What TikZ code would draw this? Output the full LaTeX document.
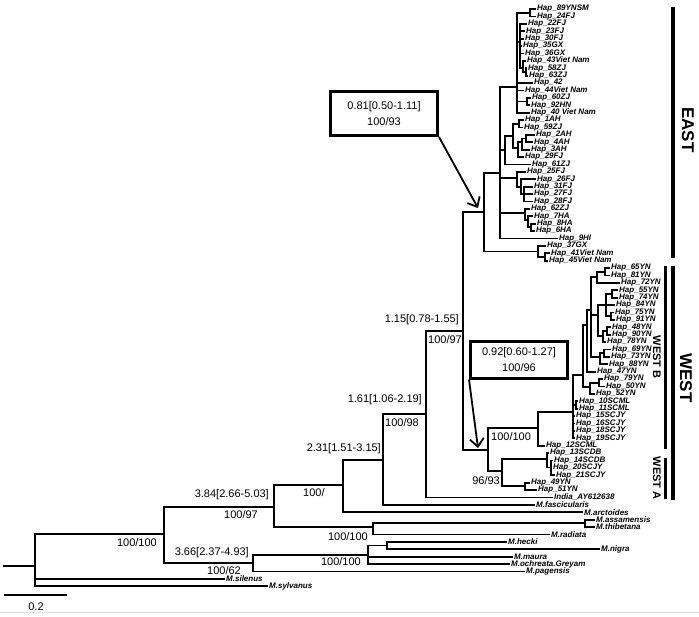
\documentclass[tikz,border=0pt]{standalone}
\usepackage{fontspec}
\setmainfont{Liberation Sans}
\usetikzlibrary{arrows.meta}

\begin{document}
\begin{tikzpicture}[x=1pt,y=-1pt,
  br/.style={line width=1.8pt},
  tip/.style={anchor=west,inner sep=1pt,font=\fontsize{8}{8}\selectfont\bfseries\itshape},
  supp/.style={inner sep=0pt,font=\fontsize{11}{12}\selectfont},
  bbox/.style={draw,line width=3pt,align=center,inner sep=0pt,font=\fontsize{11}{16}\selectfont},
  arr/.style={line width=1.8pt,-{Straight Barb[length=8pt,width=14pt]}},
  bar/.style={line width=4pt},
  clade/.style={rotate=-90,inner sep=0pt,font=\fontsize{17}{17}\selectfont\bfseries},
  subclade/.style={rotate=-90,inner sep=0pt,font=\fontsize{11}{11}\selectfont\bfseries}]
\useasboundingbox (0,0) rectangle (699,616);

% tips, one row every 7.4
\foreach \nm/\xe/\lab [count=\i from 0] in {
  h89/536/Hap\_89YNSM, h24/536/Hap\_24FJ, h22/527/Hap\_22FJ, h23/525/Hap\_23FJ,
  h30/524/Hap\_30FJ, h35/522/Hap\_35GX, h36/524/Hap\_36GX, h43/526/Hap\_43Viet Nam,
  h58/527/Hap\_58ZJ, h63/528/Hap\_63ZJ, h42/533/Hap\_42, h44/524/Hap\_44Viet Nam,
  h60/531/Hap\_60ZJ, h92/530/Hap\_92HN, h40/530/Hap\_40 Viet Nam, h1/524/Hap\_1AH,
  h59/523/Hap\_59ZJ, h2/535/Hap\_2AH, h4/533/Hap\_4AH, h3/530/Hap\_3AH,
  h29/524/Hap\_29FJ, h61/531/Hap\_61ZJ, h25/526/Hap\_25FJ, h26/536/Hap\_26FJ,
  h31/533/Hap\_31FJ, h27/533/Hap\_27FJ, h28/533/Hap\_28FJ, h62/530/Hap\_62ZJ,
  h7/533/Hap\_7HA, h8/536/Hap\_8HA, h6/535/Hap\_6HA, h9/558/Hap\_9HI,
  h37/546/Hap\_37GX, h41/550/Hap\_41Viet Nam, h45/548/Hap\_45Viet Nam}
  \node[tip] (\nm) at (\xe,{9+7.4*\i}) {\lab};

\foreach \nm/\xe/\lab [count=\i from 35] in {
  h65/610/Hap\_65YN, h81/610/Hap\_81YN, h72/620/Hap\_72YN, h55/618/Hap\_55YN,
  h74/618/Hap\_74YN, h84/615/Hap\_84YN, h75/614/Hap\_75YN, h91/615/Hap\_91YN,
  h48/611/Hap\_48YN, h90/611/Hap\_90YN, h78/606/Hap\_78YN, h69/611/Hap\_69YN,
  h73/610/Hap\_73YN, h88/608/Hap\_88YN, h47/596/Hap\_47YN, h79/603/Hap\_79YN,
  h50/605/Hap\_50YN, h52/595/Hap\_52YN, h10/578/Hap\_10SCML, h11/578/Hap\_11SCML,
  h15/575/Hap\_15SCJY, h16/575/Hap\_16SCJY, h18/575/Hap\_18SCJY, h19/575/Hap\_19SCJY,
  h12/545/Hap\_12SCML, h13/549/Hap\_13SCDB, h14/553/Hap\_14SCDB, h20/552/Hap\_20SCJY,
  h21/555/Hap\_21SCJY, h49/530/Hap\_49YN, h51/537/Hap\_51YN}
  \node[tip] (\nm) at (\xe,{9+7.4*\i}) {\lab};

\foreach \nm/\xe/\lab [count=\i from 66] in {
  india/553/India\_AY612638, fasc/535/M.fascicularis, arct/583/M.arctoides,
  assam/595/M.assamensis, thib/595/M.thibetana, radi/550/M.radiata,
  hecki/507/M.hecki, nigra/600/M.nigra, maura/513/M.maura,
  ochr/510/M.ochreata.Greyam, pag/525/M.pagensis, silen/225/M.silenus,
  sylv/268/M.sylvanus}
  \node[tip] (\nm) at (\xe,{9+7.4*\i}) {\lab};

% backbone
\coordinate (stem) at (3,566);
\coordinate (root) at (35,566);
\coordinate (A) at (164,534);
\coordinate (B) at (274,507);
\coordinate (C) at (253,563);
\coordinate (Cb) at (368,555);
\coordinate (Cc) at (387,545.5);
\coordinate (E) at (373,527);
\coordinate (Ea) at (585,523.3);
\coordinate (F) at (343,485);
\coordinate (G) at (383,460);
\coordinate (H) at (426,414);
\coordinate (I) at (463,331);
\draw[br] (stem) -- (root);
\draw[br] (root) |- (A) (root) |- (silen.west) (root) |- (sylv.west);
\draw[br] (A) |- (B) (A) |- (C);
\draw[br] (C) |- (Cb) (C) |- (pag.west);
\draw[br] (Cb) |- (Cc) (Cb) |- (maura.west) (Cb) |- (ochr.west);
\draw[br] (Cc) |- (hecki.west) (Cc) |- (nigra.west);
\draw[br] (B) |- (F) (B) |- (E);
\draw[br] (E) |- (Ea) (E) |- (radi.west);
\draw[br] (Ea) |- (assam.west) (Ea) |- (thib.west);
\draw[br] (F) |- (G) (F) |- (arct.west);
\draw[br] (G) |- (H) (G) |- (fasc.west);
\draw[br] (H) |- (I) (H) |- (india.west);

% EAST
\coordinate (J) at (484,212);
\coordinate (U) at (500,173);
\coordinate (U1) at (517,87);
\coordinate (U1a) at (530,12.7);
\coordinate (U1b) at (520,42);
\coordinate (U1d) at (523,68);
\coordinate (U1e) at (526,71.9);
\coordinate (U1c) at (527,101.5);
\coordinate (U2) at (505,150);
\coordinate (U2a) at (513,136);
\coordinate (U2b) at (519,123.7);
\coordinate (U2c) at (518,148);
\coordinate (U2d) at (522,142);
\coordinate (U2e) at (526,138.5);
\coordinate (U3) at (517,178);
\coordinate (U3a) at (521,186.6);
\coordinate (U3b) at (524,194);
\coordinate (U4) at (525,213);
\coordinate (U4a) at (528,220);
\coordinate (U4b) at (531,227.3);
\coordinate (V) at (538,251.4);
\coordinate (V2) at (545,256.9);
\draw[br] (I) |- (J) (J) |- (U) (J) |- (V);
\draw[br] (V) |- (h37.west) (V) |- (V2);
\draw[br] (V2) |- (h41.west) (V2) |- (h45.west);
\draw[br] (U) |- (U1) (U) |- (U2) (U) |- (U3) (U) |- (U4) (U) |- (h9.west);
\draw[br] (U1) |- (U1a) (U1) |- (U1b) (U1) |- (h42.west) (U1) |- (h44.west) (U1) |- (U1c) (U1) |- (h40.west);
\draw[br] (U1a) |- (h89.west) (U1a) |- (h24.west);
\draw[br] (U1b) |- (h22.west) (U1b) |- (h23.west) (U1b) |- (h30.west) (U1b) |- (h35.west) (U1b) |- (h36.west) (U1b) |- (U1d);
\draw[br] (U1d) |- (h43.west) (U1d) |- (U1e);
\draw[br] (U1e) |- (h58.west) (U1e) |- (h63.west);
\draw[br] (U1c) |- (h60.west) (U1c) |- (h92.west);
\draw[br] (U2) |- (U2a) (U2) |- (h61.west);
\draw[br] (U2a) |- (U2b) (U2a) |- (U2c);
\draw[br] (U2b) |- (h1.west) (U2b) |- (h59.west);
\draw[br] (U2c) |- (U2d) (U2c) |- (h29.west);
\draw[br] (U2d) |- (U2e) (U2d) |- (h3.west);
\draw[br] (U2e) |- (h2.west) (U2e) |- (h4.west);
\draw[br] (U3) |- (h25.west) (U3) |- (U3a);
\draw[br] (U3a) |- (h26.west) (U3a) |- (U3b);
\draw[br] (U3b) |- (h31.west) (U3b) |- (h27.west) (U3b) |- (h28.west);
\draw[br] (U4) |- (h62.west) (U4) |- (U4a);
\draw[br] (U4a) |- (h7.west) (U4a) |- (U4b);
\draw[br] (U4b) |- (h8.west) (U4b) |- (h6.west);

% WEST
\coordinate (K) at (488,450);
\coordinate (L) at (538,428);
\coordinate (Q) at (573,412);
\coordinate (Qa) at (576,404.9);
\coordinate (M) at (502,471);
\coordinate (N) at (547,459);
\coordinate (Na) at (551,467.4);
\coordinate (O) at (525,486);
\coordinate (R) at (583,375);
\coordinate (R1) at (587,325);
\coordinate (R3) at (591,310);
\coordinate (R4) at (597,277);
\coordinate (R4a) at (605,271.7);
\coordinate (R5) at (598,315);
\coordinate (R5a) at (606,305);
\coordinate (R5c) at (612,293.9);
\coordinate (R5d) at (611,316.1);
\coordinate (R5b) at (603,336);
\coordinate (R5e) at (607,330.9);
\coordinate (R6) at (600,357);
\coordinate (R6a) at (604,353.1);
\coordinate (R2) at (590,387);
\coordinate (R2a) at (599,382.7);
\draw[br] (I) |- (K) (K) |- (L) (K) |- (M);
\draw[br] (L) |- (Q) (L) |- (h12.west);
\draw[br] (Q) |- (R) (Q) |- (Qa) (Q) |- (h15.west) (Q) |- (h16.west) (Q) |- (h18.west) (Q) |- (h19.west);
\draw[br] (Qa) |- (h10.west) (Qa) |- (h11.west);
\draw[br] (M) |- (N) (M) |- (O);
\draw[br] (N) |- (h13.west) (N) |- (Na);
\draw[br] (Na) |- (h14.west) (Na) |- (h20.west) (Na) |- (h21.west);
\draw[br] (O) |- (h49.west) (O) |- (h51.west);
\draw[br] (R) |- (R1) (R) |- (R2);
\draw[br] (R1) |- (R3) (R1) |- (h47.west);
\draw[br] (R3) |- (R4) (R3) |- (R5) (R3) |- (R6);
\draw[br] (R4) |- (R4a) (R4) |- (h72.west);
\draw[br] (R4a) |- (h65.west) (R4a) |- (h81.west);
\draw[br] (R5) |- (R5a) (R5) |- (R5b);
\draw[br] (R5a) |- (R5c) (R5a) |- (h84.west) (R5a) |- (R5d);
\draw[br] (R5c) |- (h55.west) (R5c) |- (h74.west);
\draw[br] (R5d) |- (h75.west) (R5d) |- (h91.west);
\draw[br] (R5b) |- (R5e) (R5b) |- (h78.west);
\draw[br] (R5e) |- (h48.west) (R5e) |- (h90.west);
\draw[br] (R6) |- (R6a) (R6) |- (h88.west);
\draw[br] (R6a) |- (h69.west) (R6a) |- (h73.west);
\draw[br] (R2) |- (R2a) (R2) |- (h52.west);
\draw[br] (R2a) |- (h79.west) (R2a) |- (h50.west);

% support and dates
\node[supp,anchor=east] (sA) at (157,543) {100/100};
\node[supp,anchor=east] (sB1) at (269,495) {3.84[2.66-5.03]};
\node[supp,anchor=east] (sB2) at (258,515) {100/97};
\node[supp,anchor=east] (sC1) at (249,553) {3.66[2.37-4.93]};
\node[supp,anchor=east] (sC2) at (241,571) {100/62};
\node[supp,anchor=east] (sCb) at (361,562) {100/100};
\node[supp,anchor=east] (sE) at (368,537) {100/100};
\node[supp,anchor=west] (sF) at (303,493) {100/};
\node[supp,anchor=east] (sG) at (381,449) {2.31[1.51-3.15]};
\node[supp,anchor=east] (sH1) at (422,400) {1.61[1.06-2.19]};
\node[supp,anchor=west] (sH2) at (385,423) {100/98};
\node[supp,anchor=east] (sI1) at (459,320) {1.15[0.78-1.55]};
\node[supp,anchor=west] (sI2) at (428,340) {100/97};
\node[supp,anchor=west] (sK) at (491,437) {100/100};
\node[supp,anchor=east] (sM) at (500,481) {96/93};

% boxed node ages
\node[bbox,minimum width=107pt,minimum height=44pt] (box1) at (384,113.5) {0.81[0.50-1.11]\\100/93};
\node[bbox,minimum width=97pt,minimum height=37pt] (box2) at (519,359.5) {0.92[0.60-1.27]\\100/96};
\coordinate (tipE) at (478,208);
\coordinate (tipW) at (478,448);
\draw[arr] (box1.south east) -- (tipE);
\draw[arr] (box2.south west) -- (tipW);

% clade bars
\coordinate (ea0) at (673,7);
\coordinate (ea1) at (673,258);
\coordinate (we0) at (673,266);
\coordinate (we1) at (673,500);
\coordinate (wb0) at (665,266);
\coordinate (wb1) at (665,449);
\coordinate (wa0) at (665,458);
\coordinate (wa1) at (665,499);
\draw[bar] (ea0) -- (ea1);
\draw[bar] (we0) -- (we1);
\draw[bar,line width=3pt] (wb0) -- (wb1);
\draw[bar,line width=3pt] (wa0) -- (wa1);
\node[clade] (east) at (688,130) {EAST};
\node[clade] (west) at (686,378) {WEST};
\node[subclade] (westb) at (657,357) {WEST B};
\node[subclade] (westa) at (657,478) {WEST A};

% scale
\coordinate (sc0) at (4,595);
\coordinate (sc1) at (67,595);
\draw[br] (sc0) -- (sc1);
\node[supp] (sclab) at (36,607) {0.2};
\coordinate (fr0) at (0,612);
\coordinate (fr1) at (699,612);
\draw[gray!25,line width=1pt] (fr0) -- (fr1);
\end{tikzpicture}
\end{document}
